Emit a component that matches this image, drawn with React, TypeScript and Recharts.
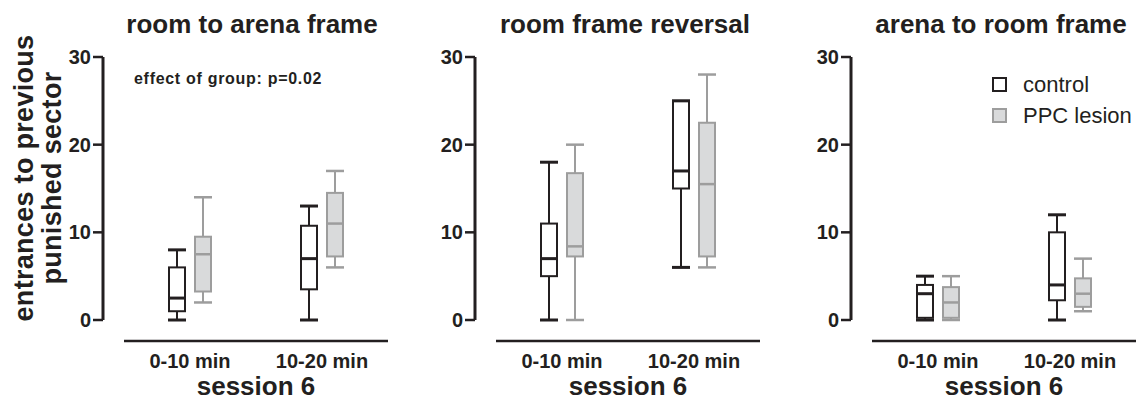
import React from 'react';
import { ComposedChart, Bar, XAxis, YAxis, Legend } from 'recharts';

const FONT = '"Liberation Sans", Arial, Helvetica, sans-serif';
const INK = '#231f20';
const GREY_LINE = '#9d9d9d';
const GREY_FILL = '#d9dadb';

const periods = ['0-10 min', '10-20 min'];
const panelTitles = ['room to arena frame', 'room frame reversal', 'arena to room frame'];
const yTicks = [0, 10, 20, 30];
const xAxisTitle = 'session 6';
const seriesNames = ['control', 'PPC lesion'];

// [min, q1, median, q3, max] for 0-10 and 10-20 min
const roomToArenaControl = [[0, 1, 2.5, 6, 8], [0, 3.5, 7, 10.75, 13]];
const roomToArenaLesion = [[2, 3.25, 7.5, 9.5, 14], [6, 7.25, 11, 14.5, 17]];
const reversalControl = [[0, 5, 7, 11, 18], [6, 15, 17, 25, 25]];
const reversalLesion = [[0, 7.25, 8.4, 16.75, 20], [6, 7.25, 15.5, 22.5, 28]];
const arenaToRoomControl = [[0, 0.25, 3, 4, 5], [0, 2.25, 4, 10, 12]];
const arenaToRoomLesion = [[0, 0.25, 2, 3.75, 5], [1, 1.5, 3, 4.75, 7]];

const controls = [roomToArenaControl, reversalControl, arenaToRoomControl];
const lesions = [roomToArenaLesion, reversalLesion, arenaToRoomLesion];

// chart box for each panel
const panels = [
  { left: 0, width: 400, mLeft: 43, mRight: 12, titleX: 252 },
  { left: 400, width: 370, mLeft: 15, mRight: 10, titleX: 625 },
  { left: 780, width: 358, mLeft: 11, mRight: 2, titleX: 1001 },
];

const BoxShape = (props: any) => {
  const { x, y, width, height, stats, line, fill, capWidth, medWidth } = props;
  if (!stats) return null;
  const [lo, q1, med, q3, hi] = stats;
  const top = Math.min(y, y + height);
  const bottom = Math.max(y, y + height);
  const py = (v: number) => (hi === lo ? bottom : bottom - ((v - lo) / (hi - lo)) * (bottom - top));
  const cx = x + width / 2;
  return (
    <g>
      <line x1={cx} x2={cx} y1={py(lo)} y2={py(q1)} stroke={line} strokeWidth={2} />
      <line x1={cx} x2={cx} y1={py(q3)} y2={py(hi)} stroke={line} strokeWidth={2} />
      <rect x={x} y={py(q3)} width={width} height={py(q1) - py(q3)} fill={fill} stroke={line} strokeWidth={2} />
      <line x1={x} x2={x + width} y1={py(med)} y2={py(med)} stroke={line} strokeWidth={medWidth} />
      <line x1={x - 1} x2={x + width + 1} y1={py(lo)} y2={py(lo)} stroke={line} strokeWidth={capWidth} />
      <line x1={x - 1} x2={x + width + 1} y1={py(hi)} y2={py(hi)} stroke={line} strokeWidth={capWidth} />
    </g>
  );
};

const renderLegend = () => (
  <div style={{ fontFamily: FONT, fontSize: 22, color: INK }}>
    {seriesNames.map((name, i) => (
      <div key={name} style={{ display: 'flex', alignItems: 'center', height: 31, lineHeight: '31px' }}>
        <span
          style={{
            display: 'inline-block',
            width: 15,
            height: 15,
            boxSizing: 'border-box',
            border: `2px solid ${i === 0 ? INK : GREY_LINE}`,
            background: i === 0 ? '#fff' : GREY_FILL,
            marginRight: 16,
          }}
        />
        <span>{name}</span>
      </div>
    ))}
  </div>
);

const Panel = ({ index }: { index: number }) => {
  const p = panels[index];
  const data = periods.map((period, i) => ({
    period,
    control: controls[index][i],
    lesion: lesions[index][i],
  }));
  return (
    <div style={{ position: 'absolute', left: p.left, top: 0 }}>
      <ComposedChart
        width={p.width}
        height={401}
        data={data}
        margin={{ top: 57, right: p.mRight, bottom: 0, left: p.mLeft }}
        barGap={10}
      >
        <XAxis xAxisId="gap" dataKey="period" height={21} tick={false} axisLine={false} tickLine={false} />
        <XAxis
          xAxisId="main"
          dataKey="period"
          height={60}
          interval={0}
          tickLine={false}
          tickSize={6}
          tickMargin={7}
          axisLine={{ stroke: INK, strokeWidth: 2.5 }}
          tick={{ fill: INK, fontSize: 20, fontWeight: 'bold' }}
          label={{ value: xAxisTitle, position: 'insideBottom', offset: 6, fill: INK, fontSize: 26, fontWeight: 'bold' }}
        />
        <YAxis yAxisId="gap" width={21} domain={[0, 30]} tick={false} axisLine={false} tickLine={false} />
        <YAxis
          yAxisId="main"
          width={60}
          domain={[0, 30]}
          ticks={yTicks}
          interval={0}
          tickSize={10}
          tickMargin={2}
          axisLine={{ stroke: INK, strokeWidth: 3 }}
          tickLine={{ stroke: INK, strokeWidth: 2.5 }}
          tick={{ fill: INK, fontSize: 20, fontWeight: 'bold' }}
        />
        <Bar
          xAxisId="main"
          yAxisId="main"
          name={seriesNames[0]}
          dataKey={(d: any) => [d.control[0], d.control[4]]}
          barSize={16}
          fill="#fff"
          isAnimationActive={false}
          shape={(s: any) => (
            <BoxShape {...s} stats={s.payload?.control} line={INK} fill="#fff" capWidth={3} medWidth={3} />
          )}
        />
        <Bar
          xAxisId="main"
          yAxisId="main"
          name={seriesNames[1]}
          dataKey={(d: any) => [d.lesion[0], d.lesion[4]]}
          barSize={16}
          fill={GREY_FILL}
          isAnimationActive={false}
          shape={(s: any) => (
            <BoxShape {...s} stats={s.payload?.lesion} line={GREY_LINE} fill={GREY_FILL} capWidth={2.5} medWidth={2.5} />
          )}
        />
        {index === 2 && (
          <Legend
            layout="vertical"
            align="center"
            verticalAlign="middle"
            wrapperStyle={{ top: 69, left: 212, width: 150 }}
            content={renderLegend}
          />
        )}
      </ComposedChart>
    </div>
  );
};

export default function App() {
  return (
    <div
      style={{
        position: 'absolute',
        left: 0,
        top: 0,
        width: 1138,
        height: 401,
        background: '#fff',
        fontFamily: FONT,
        color: INK,
        overflow: 'hidden',
      }}
    >
      {panelTitles.map((t, i) => (
        <div
          key={t}
          style={{
            position: 'absolute',
            left: panels[i].titleX - 150,
            top: 9,
            width: 300,
            textAlign: 'center',
            fontSize: 26,
            fontWeight: 'bold',
            lineHeight: '30px',
            zIndex: 2,
          }}
        >
          {t}
        </div>
      ))}
      <div
        style={{
          position: 'absolute',
          left: 37.5 - 160,
          top: 178 - 28,
          width: 320,
          height: 56,
          transform: 'rotate(-90deg)',
          textAlign: 'center',
          fontSize: 27,
          fontWeight: 'bold',
          letterSpacing: 0.3,
          lineHeight: '28px',
          zIndex: 2,
        }}
      >
        entrances to previous
        <br />
        punished sector
      </div>
      <div
        style={{
          position: 'absolute',
          left: 134,
          top: 70,
          fontSize: 16,
          fontWeight: 'bold',
          letterSpacing: 0.7,
          lineHeight: '18px',
          whiteSpace: 'nowrap',
          zIndex: 2,
        }}
      >
        effect of group: p=0.02
      </div>
      {panels.map((_, i) => (
        <Panel key={i} index={i} />
      ))}
    </div>
  );
}
